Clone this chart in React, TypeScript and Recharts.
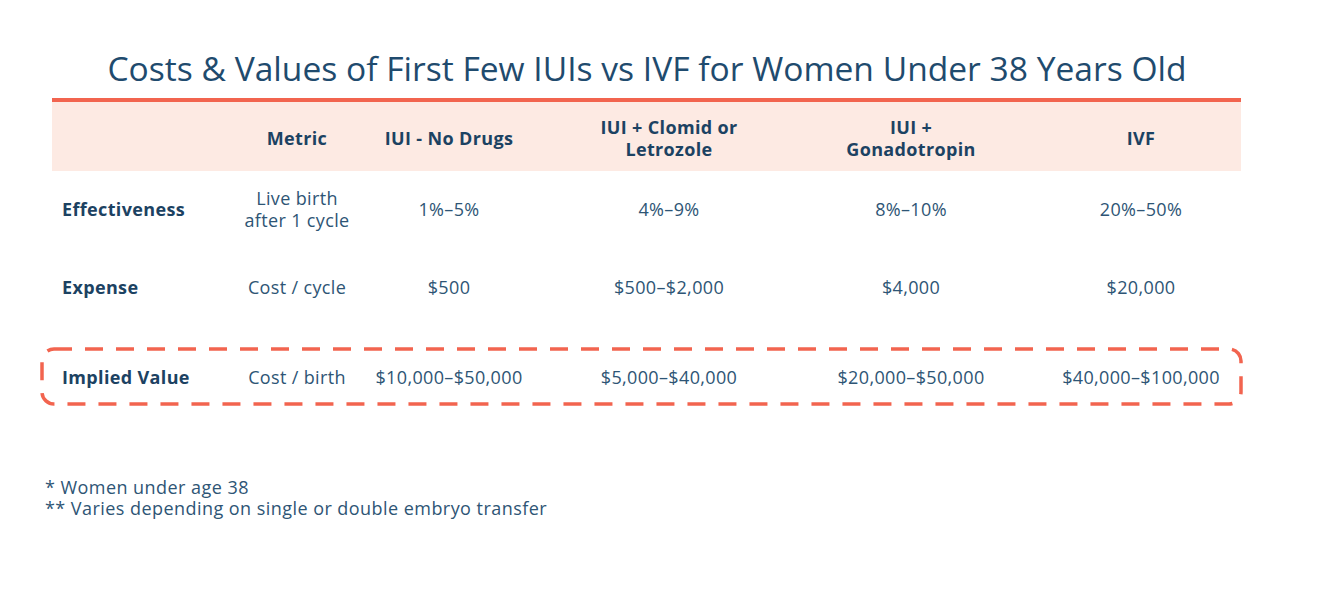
import React from 'react';
import { ScatterChart, Scatter, XAxis, YAxis, ReferenceArea, ReferenceLine } from 'recharts';

// table content
const headers = ['', 'Metric', 'IUI - No Drugs', 'IUI + Clomid or\nLetrozole', 'IUI +\nGonadotropin', 'IVF'];
const rowLabels = ['Effectiveness', 'Expense', 'Implied Value'];
const metrics = ['Live birth\nafter 1 cycle', 'Cost / cycle', 'Cost / birth'];
const iuiNoDrugs = ['1%–5%', '$500', '$10,000–$50,000'];
const iuiClomid = ['4%–9%', '$500–$2,000', '$5,000–$40,000'];
const iuiGonadotropin = ['8%–10%', '$4,000', '$20,000–$50,000'];
const ivf = ['20%–50%', '$20,000', '$40,000–$100,000'];
const highlightedRow = 'Implied Value';

const title = 'Costs & Values of First Few IUIs vs IVF for Women Under 38 Years Old';
const footnotes = ['* Women under age 38', '** Varies depending on single or double embryo transfer'];

// layout (pixels of the 1332x592 canvas)
const W = 1332;
const H = 592;
const COL_X = [62, 297, 449, 669, 911, 1141];
const ROW_Y = [138, 209, 287, 377];
const TABLE_LEFT = 52;
const TABLE_RIGHT = 1241;
const HEADER_TOP = 102;
const HEADER_BOTTOM = 171;

const NAVY = '#1c4262';
const TEXT = '#2e5575';
const ORANGE = '#f2644f';
const PEACH = '#fdeae3';

type Cell = { x: number; y: number; text: string; bold: boolean; anchor: 'start' | 'middle' };

const valueColumns = [metrics, iuiNoDrugs, iuiClomid, iuiGonadotropin, ivf];

const cells: Cell[] = [];
headers.forEach((h, c) => {
  if (h) cells.push({ x: COL_X[c], y: ROW_Y[0], text: h, bold: true, anchor: 'middle' });
});
rowLabels.forEach((label, r) => {
  cells.push({ x: COL_X[0], y: ROW_Y[r + 1], text: label, bold: true, anchor: 'start' });
  valueColumns.forEach((col, c) => {
    cells.push({ x: COL_X[c + 1], y: ROW_Y[r + 1], text: col[r], bold: false, anchor: 'middle' });
  });
});

const highlightY = ROW_Y[rowLabels.indexOf(highlightedRow) + 1];

const CellText = (props: any) => {
  const { cx, cy, payload } = props;
  const lines = String(payload.text).split('\n');
  const lh = 22;
  const start = cy - ((lines.length - 1) * lh) / 2;
  return (
    <text
      textAnchor={payload.anchor}
      fontFamily="'Open Sans', sans-serif"
      fontSize={18}
      letterSpacing={0.35}
      fontWeight={payload.bold ? 700 : 400}
      fill={payload.bold ? NAVY : TEXT}
    >
      {lines.map((l, i) => (
        <tspan key={i} x={cx} y={start + i * lh} dominantBaseline="central">
          {l}
        </tspan>
      ))}
    </text>
  );
};

const DashedBox = (props: any) => {
  const { x, y, width, height } = props;
  return (
    <rect
      x={x}
      y={y}
      width={width}
      height={height}
      rx={12}
      ry={12}
      fill="none"
      stroke={ORANGE}
      strokeWidth={3.5}
      strokeDasharray="18 13"
    />
  );
};

export default function App() {
  return (
    <div style={{ position: 'relative', width: W, height: H, background: '#fff', fontFamily: "'Open Sans', sans-serif" }}>
      <style>{'body{margin:0}'}</style>
      <div
        style={{
          position: 'absolute',
          left: 0,
          top: 48,
          width: 1294,
          textAlign: 'center',
          fontSize: 33.6,
          lineHeight: '40px',
          color: '#1f4b6e',
        }}
      >
        {title}
      </div>
      <ScatterChart width={W} height={H} margin={{ top: 0, right: 0, bottom: 0, left: 0 }}>
        <XAxis type="number" dataKey="x" domain={[0, W]} hide />
        <YAxis type="number" dataKey="y" domain={[0, H]} reversed hide />
        <ReferenceArea x1={TABLE_LEFT} x2={TABLE_RIGHT} y1={HEADER_TOP} y2={HEADER_BOTTOM} fill={PEACH} fillOpacity={1} stroke="none" />
        <ReferenceLine
          segment={[{ x: TABLE_LEFT, y: 100 }, { x: TABLE_RIGHT, y: 100 }]}
          stroke={ORANGE}
          strokeWidth={4}
        />
        <ReferenceArea
          x1={42}
          x2={TABLE_RIGHT}
          y1={highlightY - 28}
          y2={highlightY + 27}
          shape={<DashedBox />}
        />
        <Scatter data={cells} shape={<CellText />} isAnimationActive={false} />
      </ScatterChart>
      <div
        style={{
          position: 'absolute',
          left: 45,
          top: 477,
          fontSize: 18,
          letterSpacing: 0.45,
          lineHeight: '21px',
          color: TEXT,
        }}
      >
        {footnotes.map((f) => (
          <div key={f}>{f}</div>
        ))}
      </div>
    </div>
  );
}
